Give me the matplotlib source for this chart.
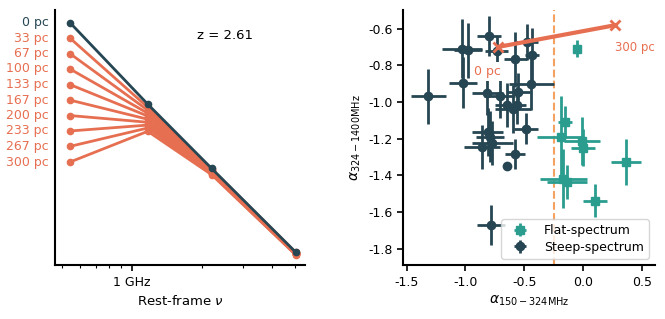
import matplotlib
matplotlib.use("Agg")
import matplotlib.pyplot as plt
import matplotlib.ticker as mticker
import numpy as np

# --- data ---
z = 2.61
obs_freq_ghz = [0.150, 0.324, 0.610, 1.400]
depths = ["0 pc", "33 pc", "67 pc", "100 pc", "133 pc", "167 pc", "200 pc", "233 pc", "267 pc", "300 pc"]
# flux (arbitrary units) at the four frequencies, one row per depth
flux = [
    [9.72, 4.33, 2.290, 1.000],
    [8.34, 4.20, 2.275, 0.997],
    [7.15, 4.08, 2.260, 0.994],
    [6.14, 3.96, 2.244, 0.991],
    [5.26, 3.85, 2.228, 0.988],
    [4.51, 3.73, 2.213, 0.985],
    [3.87, 3.62, 2.198, 0.982],
    [3.32, 3.52, 2.183, 0.979],
    [2.85, 3.42, 2.168, 0.977],
    [2.44, 3.31, 2.153, 0.974],
]

steep_x = [-1.315, -1.03, -0.975, -0.80, -0.735, -1.02, -0.48, -0.575, -0.432, -0.44, -0.815, -0.71,
           -0.65, -0.595, -0.55, -0.565, -0.485, -0.81, -0.79, -0.77, -0.858, -0.58, -0.65, -0.785]
steep_y = [-0.968, -0.71, -0.718, -0.64, -0.72, -0.895, -0.673, -0.768, -0.746, -0.905, -0.95, -0.97,
           -1.015, -1.04, -0.945, -1.018, -1.147, -1.164, -1.19, -1.225, -1.245, -1.284, -1.347, -1.673]
steep_xerr = [0.15, 0.17, 0.12, 0.10, 0.10, 0.12, 0.10, 0.10, 0.06, 0.19, 0.13, 0.13,
              0.10, 0.15, 0.10, 0.08, 0.105, 0.13, 0.12, 0.17, 0.15, 0.085, 0.0, 0.12]
steep_yerr = [0.15, 0.16, 0.15, 0.11, 0.08, 0.14, 0.10, 0.15, 0.15, 0.14, 0.12, 0.12,
              0.12, 0.13, 0.10, 0.10, 0.085, 0.13, 0.14, 0.12, 0.12, 0.08, 0.0, 0.11]

flat_x = [-0.056, -0.152, -0.19, -0.01, 0.0, 0.362, -0.17, -0.14, 0.099]
flat_y = [-0.709, -1.11, -1.19, -1.215, -1.25, -1.328, -1.418, -1.437, -1.54]
flat_xerr = [0.02, 0.06, 0.20, 0.155, 0.10, 0.13, 0.20, 0.17, 0.10]
flat_yerr = [0.045, 0.085, 0.22, 0.13, 0.10, 0.127, 0.16, 0.095, 0.09]

# model track: 0 pc -> 300 pc
track_x = [-0.72, 0.269]
track_y = [-0.70, -0.582]
flat_cut = -0.25

dark = "#264653"
teal = "#2a9d8f"
orange = "#e76f51"
light_orange = "#f4a261"

plt.rcParams['font.family'] = 'DejaVu Sans'
plt.rcParams['mathtext.fontset'] = 'dejavusans'
plt.rcParams['axes.unicode_minus'] = False

fig = plt.figure(figsize=(6.65, 3.19), dpi=100)
ax1 = fig.add_axes([0.083, 0.169, 0.376, 0.799])
ax2 = fig.add_axes([0.606, 0.169, 0.379, 0.799])

# --- left panel: spectra ---
freq = np.array(obs_freq_ghz) * (1 + z)
for i in range(len(depths) - 1, 0, -1):
    ax1.plot(freq, flux[i], '-o', color=orange, lw=2.0, ms=4.5, zorder=2)
ax1.plot(freq, flux[0], '-o', color=dark, lw=2.0, ms=4.5, zorder=3)

ax1.set_xscale('log')
ax1.set_yscale('log')
ax1.set_xlim(0.468, 5.56)
ax1.set_ylim(0.879, 10.99)
ax1.set_xticks([1.0])
ax1.set_xticklabels(['1 GHz'])
ax1.xaxis.set_minor_formatter(mticker.NullFormatter())
ax1.yaxis.set_major_locator(mticker.NullLocator())
ax1.yaxis.set_minor_locator(mticker.NullLocator())
ax1.tick_params(axis='x', which='major', length=4, width=1.2, labelsize=9)
ax1.tick_params(axis='x', which='minor', length=2.5, width=0.8)
ax1.set_xlabel(r'Rest-frame $\nu$', fontsize=9.5)

for i, lab in enumerate(depths):
    ax1.text(-0.025, flux[i][0], lab, transform=ax1.get_yaxis_transform(),
             ha='right', va='center', fontsize=9, color=dark if i == 0 else orange)
ax1.text(0.68, 0.90, f'z = {z}', transform=ax1.transAxes, ha='center', va='center', fontsize=9.5)

for a in (ax1, ax2):
    a.spines['top'].set_visible(False)
    a.spines['right'].set_visible(False)
    a.spines['left'].set_linewidth(1.5)
    a.spines['bottom'].set_linewidth(1.5)

# --- right panel: colour-colour ---
ax2.axvline(flat_cut, ls='--', color=light_orange, lw=1.5, zorder=1)
ax2.errorbar(flat_x, flat_y, xerr=flat_xerr, yerr=flat_yerr, fmt='s', color=teal, ms=6,
             elinewidth=2.0, capsize=0, label='Flat-spectrum', zorder=2)
ax2.errorbar(steep_x, steep_y, xerr=steep_xerr, yerr=steep_yerr, fmt='o', color=dark, ms=6,
             elinewidth=2.0, capsize=0, label='Steep-spectrum', zorder=2)
ax2.plot(track_x, track_y, '-x', color=orange, lw=3, ms=7, mew=2, zorder=4)
ax2.text(track_x[0] - 0.09, track_y[0] - 0.135, '0 pc', color=orange, fontsize=9, ha='center', va='center',
         bbox=dict(facecolor='white', edgecolor='none', pad=2), zorder=3)
ax2.text(track_x[1], track_y[1] - 0.123, '300 pc', color=orange, fontsize=8.5, ha='left', va='center')

ax2.set_xlim(-1.53, 0.61)
ax2.set_ylim(-1.89, -0.5)
ax2.set_xticks([-1.5, -1.0, -0.5, 0.0, 0.5])
ax2.set_yticks([-1.8, -1.6, -1.4, -1.2, -1.0, -0.8, -0.6])
ax2.tick_params(axis='both', labelsize=9, width=1.2, length=4)
ax2.set_xlabel(r'$\alpha_{150-324\mathrm{MHz}}$', fontsize=10)
ax2.set_ylabel(r'$\alpha_{324-1400\mathrm{MHz}}$', fontsize=10)
ax2.legend(loc='lower right', fontsize=9, handlelength=2.2, borderpad=0.4, labelspacing=0.3)

plt.savefig('out.png', dpi=100)
